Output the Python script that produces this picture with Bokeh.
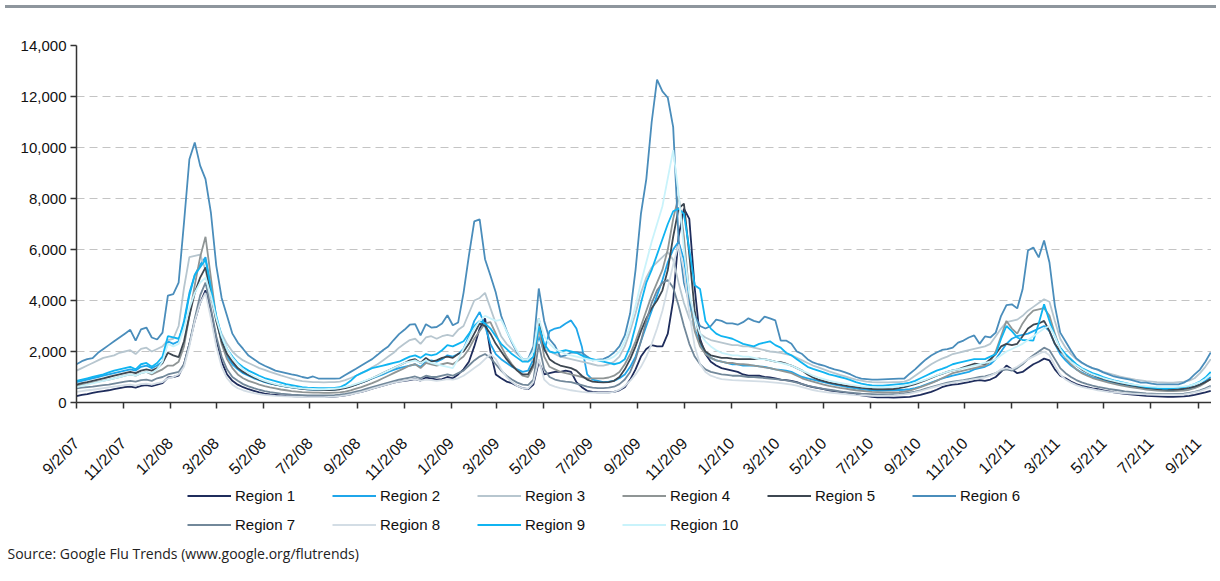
from datetime import date
from bokeh.plotting import figure
from bokeh.models import (Range1d, FixedTicker, Legend, LegendItem, Label, Div,
                          NumeralTickFormatter, ColumnDataSource)
from bokeh.layouts import column
from bokeh.embed import file_html
from bokeh.resources import INLINE

start = date(2007, 9, 2)   # first weekly observation (Sunday)

tick_labels = ["9/2/07", "11/2/07", "1/2/08", "3/2/08", "5/2/08", "7/2/08", "9/2/08",
               "11/2/08", "1/2/09", "3/2/09", "5/2/09", "7/2/09", "9/2/09", "11/2/09",
               "1/2/10", "3/2/10", "5/2/10", "7/2/10", "9/2/10", "11/2/10", "1/2/11",
               "3/2/11", "5/2/11", "7/2/11", "9/2/11"]

region_names = ["Region 1", "Region 2", "Region 3", "Region 4", "Region 5",
                "Region 6", "Region 7", "Region 8", "Region 9", "Region 10"]

region_1 = [250, 300, 330, 380, 420, 450, 480, 520, 560, 600, 620, 580, 650, 680, 640, 700, 760,
            980, 1000, 1050, 1500, 2300, 3200, 3900, 4400, 3600, 2500, 1600, 1100, 850, 700,
            600, 520, 460, 400, 350, 320, 300, 280, 260, 250, 240, 240, 230, 230, 220, 220, 220, 230, 250, 280, 320, 380, 420, 480, 540,
            600, 660, 720, 780, 820, 850, 880, 920, 860, 980, 950, 900, 920, 1000, 950, 1100, 1300,
            1600, 2200, 2900, 3300, 2000, 1100, 950, 820, 760, 650, 560, 520,
            700, 1600, 1100, 1150, 1200, 1200, 1250, 1200, 800, 600, 460, 420, 400, 400, 400, 420,
            480, 600, 900, 1300, 1800, 2100, 2250, 2200, 2200, 2700, 4000, 6500, 7600, 7200, 4500, 2500, 1900, 1600, 1450, 1350,
            1300, 1250, 1200, 1100, 1050, 1050, 1050, 1000, 980, 950, 900, 880, 850, 800, 720, 650, 600, 560, 520, 480, 450, 420, 400, 360, 320, 280, 250, 220, 200, 200, 200, 190, 200, 210, 220,
            260, 300, 360, 420, 500, 600, 660, 700, 720, 760, 800, 850, 880, 850, 900, 1000, 1200, 1450, 1300, 1150, 1200,
            1350, 1500, 1600, 1720, 1650, 1300, 1050, 950, 820, 720, 650, 600, 550, 520,
            480, 440, 400, 370, 340, 320, 300, 280, 260, 250, 240, 230, 220, 220, 230, 240, 260, 300, 350, 400, 460]

region_2 = [800, 850, 900, 950, 1000, 1050, 1100, 1150, 1200, 1250, 1300, 1250, 1400, 1450, 1350, 1450, 1600,
            2400, 2300, 2400, 3200, 4300, 5000, 5400, 5700, 4500, 3300, 2400, 1800, 1500, 1300,
            1150, 1050, 950, 880, 800, 740, 700, 660, 620, 590, 560, 540, 520, 510, 500, 500, 500, 510, 540, 580, 640, 700, 780, 860, 940,
            1020, 1100, 1200, 1280, 1350, 1400, 1450, 1500, 1400, 1600, 1650, 1600, 1700, 1850, 1800, 1900, 2100,
            2600, 3200, 3550, 3000, 2300, 1900, 1700, 1550, 1400, 1300, 1200, 1250,
            1700, 2600, 2000, 2800, 2900, 2950, 3100, 3220, 2900, 2200, 1100, 900, 850, 800, 820, 850,
            950, 1100, 1400, 1800, 2400, 3000, 3600, 4200, 4800, 5500, 6000, 6300, 5600, 4000, 2900, 2300, 1950, 1750, 1650, 1600,
            1550, 1500, 1500, 1450, 1450, 1450, 1420, 1400, 1350, 1300, 1280, 1250, 1200, 1100, 1000, 950, 900, 850, 800, 750, 700, 660, 620, 580, 550, 520, 500, 480, 470, 470, 480, 480, 490, 500, 520,
            560, 620, 700, 780, 860, 940, 1000, 1050, 1100, 1150, 1200, 1300, 1350, 1400, 1500, 1700, 2000, 2300, 2500, 2600, 2650,
            2700, 2800, 2900, 3000, 2800, 2300, 1900, 1650, 1450, 1300, 1180, 1080, 1000, 940,
            880, 820, 770, 720, 680, 640, 600, 570, 540, 520, 500, 490, 480, 480, 490, 500, 540, 600, 700, 850, 1000]

region_3 = [1250, 1350, 1450, 1550, 1650, 1750, 1800, 1850, 1950, 2000, 2050, 1900, 2100, 2150, 2000, 2100, 2200,
            2450, 2500, 3000, 4500, 5700, 5750, 5800, 5200, 4100, 3200, 2700, 2300, 2000, 1800,
            1650, 1550, 1450, 1350, 1280, 1200, 1130, 1060, 1000, 940, 880, 840, 820, 800, 800, 790, 800, 800, 820, 880, 960, 1050, 1150, 1250, 1380,
            1500, 1650, 1800, 1950, 2150, 2300, 2450, 2500, 2300, 2550, 2600, 2500, 2600, 2650, 2600, 2850, 3000,
            3500, 4000, 4100, 4300, 3700, 3100, 2600, 2300, 2100, 1900, 1700, 1600,
            1700, 2800, 2100, 2000, 1900, 1800, 1750, 1700, 1650, 1600, 1550, 1500, 1450, 1450, 1500, 1600,
            1800, 2200, 2800, 3500, 4300, 4900, 5300, 5500, 5700, 5900, 5600, 4700, 3900, 3300, 2900, 2700, 2550, 2450, 2400, 2350,
            2300, 2250, 2250, 2200, 2200, 2150, 2100, 2050, 2000, 1980, 1950, 1900, 1850, 1750, 1650, 1550, 1450, 1380, 1300, 1220, 1150, 1080, 1020, 960, 900, 860, 820, 800, 790, 790, 790, 800, 800, 820, 900,
            1050, 1200, 1350, 1500, 1620, 1720, 1800, 1900, 1950, 2000, 2050, 2100, 2150, 2200, 2300, 2600, 2900, 3150, 3200, 3250, 3400,
            3600, 3750, 3900, 4050, 3950, 3200, 2500, 2150, 1900, 1700, 1550, 1450, 1350, 1280,
            1200, 1140, 1080, 1020, 980, 940, 900, 870, 840, 820, 800, 790, 780, 780, 800, 820, 860, 950, 1150, 1400, 1700]

region_4 = [650, 700, 730, 780, 820, 860, 900, 950, 1000, 1050, 1100, 1050, 1150, 1200, 1100, 1200, 1300,
            1450, 1450, 1600, 2200, 3400, 4600, 5700, 6500, 4900, 3300, 2300, 1700, 1350, 1100,
            950, 850, 780, 700, 640, 590, 550, 510, 480, 450, 430, 410, 400, 390, 390, 380, 380, 390, 400, 430, 480, 540, 600, 680, 760,
            850, 950, 1050, 1150, 1250, 1350, 1450, 1500, 1350, 1550, 1500, 1450, 1500, 1550, 1500, 1650, 1800,
            2100, 2500, 2800, 3100, 3150, 2700, 2200, 1800, 1500, 1250, 1050, 1000,
            1400, 3000, 1800, 1400, 1300, 1200, 1150, 1100, 1050, 1000, 950, 950, 950, 950, 980, 1050,
            1200, 1500, 1900, 2400, 3000, 3600, 4200, 4700, 5200, 6000, 7200, 8100, 6500, 4200, 2800, 2200, 1900, 1750, 1650, 1600,
            1550, 1550, 1500, 1500, 1480, 1450, 1420, 1380, 1350, 1300, 1250, 1200, 1150, 1050, 950, 880, 820, 760, 700, 650, 610, 570, 540, 510, 480, 460, 440, 420, 410, 400, 400, 400, 410, 430, 470,
            530, 600, 680, 760, 850, 950, 1050, 1150, 1200, 1250, 1300, 1350, 1400, 1450, 1600, 2000, 2600, 3200, 2900, 2700, 3100,
            3400, 3600, 3650, 3700, 3400, 2700, 2100, 1750, 1500, 1300, 1150, 1050, 960, 900,
            840, 780, 730, 680, 640, 600, 570, 540, 510, 490, 470, 460, 450, 450, 460, 470, 500, 560, 650, 780, 920]

region_5 = [700, 760, 800, 850, 900, 950, 1000, 1050, 1100, 1150, 1200, 1150, 1250, 1300, 1250, 1350, 1550,
            1950, 1850, 1780, 2400, 3400, 4300, 4900, 5300, 4300, 3200, 2400, 1900, 1600, 1350,
            1200, 1080, 980, 900, 820, 760, 700, 660, 620, 590, 560, 540, 520, 510, 500, 490, 490, 500, 520, 560, 620, 700, 780, 860, 950,
            1050, 1150, 1250, 1350, 1450, 1550, 1650, 1700, 1550, 1750, 1600, 1650, 1750, 1800, 1750, 1900, 2000,
            2300, 2700, 3100, 3000, 2700, 2300, 2000, 1700, 1450, 1250, 1100, 1100,
            1500, 3300, 2100, 1700, 1550, 1450, 1400, 1350, 1250, 1050, 900, 820, 800, 790, 800, 850,
            1000, 1300, 1700, 2200, 2800, 3300, 3700, 4000, 4400, 5200, 6500, 7600, 7800, 5800, 3600, 2400, 2000, 1850, 1800, 1750,
            1750, 1720, 1700, 1700, 1700, 1700, 1720, 1700, 1650, 1600, 1580, 1520, 1450, 1350, 1250, 1100, 980, 900, 840, 780, 740, 700, 660, 630, 600, 570, 550, 530, 520, 520, 520, 530, 560, 600, 660,
            720, 800, 880, 960, 1050, 1120, 1200, 1260, 1300, 1380, 1450, 1520, 1500, 1520, 1700, 1900, 2200, 2300, 2250, 2300, 2600,
            2900, 3050, 3100, 3200, 2800, 2300, 2000, 1850, 1650, 1450, 1300, 1180, 1080, 1000,
            930, 870, 810, 760, 720, 680, 640, 600, 570, 550, 530, 520, 510, 510, 520, 540, 570, 620, 700, 800, 920]

region_6 = [1500, 1620, 1700, 1740, 1950, 2100, 2250, 2400, 2550, 2700, 2850, 2430, 2870, 2940, 2550, 2470, 2740,
            4190, 4250, 4700, 7060, 9540, 10200, 9290, 8760, 7450, 5370, 4100, 3400, 2700, 2350,
            2100, 1840, 1700, 1550, 1440, 1350, 1250, 1200, 1150, 1100, 1060, 1000, 960, 1020, 940, 940, 940, 940, 950, 1080, 1200, 1320, 1450, 1580, 1700,
            1870, 2050, 2200, 2450, 2680, 2850, 3050, 3070, 2630, 3070, 2940, 2960, 3100, 3420, 3030, 3140, 4300,
            5760, 7100, 7180, 5620, 4980, 4310, 3400, 2820, 2350, 1950, 1700, 1700,
            2200, 4470, 3200, 2480, 2230, 1800, 1850, 1960, 1970, 1960, 1800, 1650, 1680, 1700, 1800, 1960,
            2200, 2630, 3500, 5200, 7400, 8760, 11000, 12660, 12200, 11950, 10800, 6400, 4700, 3900, 3400, 3000, 2900, 3000, 3250, 3200,
            3100, 3100, 3050, 3150, 3300, 3200, 3140, 3370, 3300, 3220, 2430, 2430, 2300, 2000, 1900, 1700, 1570, 1500, 1450, 1370, 1300, 1250, 1180, 1100, 1000, 940, 920, 900, 900, 910, 920, 930, 940, 940, 1130,
            1300, 1500, 1690, 1840, 1960, 2060, 2090, 2150, 2350, 2430, 2550, 2630, 2300, 2590, 2550, 2740, 3400, 3820, 3850, 3690, 4440,
            5960, 6080, 5690, 6350, 5490, 3800, 2740, 2390, 2040, 1730, 1570, 1440, 1350, 1290,
            1180, 1100, 1020, 980, 940, 900, 840, 780, 780, 740, 710, 710, 710, 710, 710, 780, 900, 1100, 1290, 1600, 1960]

region_7 = [550, 580, 600, 620, 650, 680, 700, 740, 780, 820, 850, 820, 880, 900, 850, 950, 1000,
            1100, 1150, 1200, 1500, 2300, 3300, 4200, 4700, 3700, 2600, 1800, 1300, 1000, 850,
            720, 630, 560, 500, 450, 410, 380, 350, 330, 310, 300, 290, 280, 280, 280, 280, 280, 290, 310, 340, 380, 430, 480, 540, 600,
            660, 720, 780, 840, 900, 940, 980, 1020, 950, 1050, 1000, 1000, 1050, 1100, 1050, 1150, 1250,
            1450, 1650, 1800, 1900, 1750, 1500, 1250, 1050, 900, 780, 700, 680,
            900, 2300, 1300, 1000, 900, 850, 820, 800, 740, 680, 620, 580, 560, 560, 580, 620,
            720, 900, 1200, 1700, 2400, 3200, 3900, 4400, 4700, 4800, 4500, 3800, 3000, 2300, 1800, 1500, 1300, 1200, 1150, 1100,
            1080, 1050, 1050, 1030, 1000, 1000, 980, 960, 940, 920, 900, 870, 830, 780, 720, 660, 610, 570, 530, 500, 470, 440, 410, 390, 370, 350, 340, 330, 320, 320, 320, 330, 340, 360, 390,
            430, 480, 540, 600, 660, 720, 780, 820, 850, 880, 920, 960, 1000, 1020, 1080, 1150, 1250, 1300, 1250, 1350, 1500,
            1700, 1850, 2000, 2150, 2050, 1700, 1350, 1150, 1000, 880, 790, 720, 660, 610,
            570, 530, 500, 470, 440, 420, 400, 380, 360, 350, 340, 330, 330, 330, 340, 350, 380, 420, 480, 560, 650]

region_8 = [420, 450, 480, 500, 530, 560, 590, 620, 650, 680, 700, 660, 720, 740, 700, 760, 800,
            950, 1000, 1100, 1400, 2200, 3200, 3900, 4300, 3300, 2200, 1400, 950, 700, 560,
            480, 420, 370, 330, 300, 280, 260, 250, 240, 230, 220, 220, 210, 210, 210, 210, 220, 230, 250, 280, 320, 370, 420, 480, 540,
            600, 660, 720, 780, 820, 860, 900, 920, 860, 900, 880, 850, 880, 920, 900, 950, 1050,
            1200, 1350, 1500, 1700, 1900, 1700, 1300, 1000, 800, 650, 560, 540,
            800, 1700, 900, 700, 620, 560, 520, 480, 450, 420, 400, 390, 380, 380, 390, 420,
            500, 650, 850, 1100, 1400, 1800, 2300, 2900, 3600, 4500, 5400, 6200, 5200, 3500, 2200, 1500, 1200, 1050, 980, 920,
            900, 880, 870, 860, 850, 840, 830, 820, 800, 780, 760, 730, 700, 660, 600, 540, 490, 450, 420, 390, 370, 350, 330, 310, 290, 280, 270, 260, 260, 260, 270, 280, 300, 320, 350,
            400, 450, 510, 570, 630, 690, 740, 780, 820, 850, 880, 920, 950, 980, 1050, 1150, 1300, 1350, 1300, 1400, 1550,
            1700, 1800, 1900, 2000, 1850, 1450, 1100, 900, 780, 680, 610, 560, 520, 480,
            450, 420, 400, 380, 360, 350, 340, 330, 320, 310, 310, 300, 300, 300, 310, 320, 350, 400, 450, 520, 600]

region_9 = [850, 900, 950, 1000, 1050, 1100, 1180, 1250, 1300, 1350, 1400, 1300, 1500, 1550, 1400, 1550, 1800,
            2600, 2550, 2500, 3100, 4200, 5000, 5300, 5600, 4500, 3400, 2600, 2100, 1800, 1550,
            1380, 1250, 1150, 1050, 960, 900, 840, 780, 720, 680, 640, 600, 580, 570, 560, 560, 560, 570, 600, 700, 850, 1050, 1150, 1250, 1350,
            1400, 1450, 1500, 1550, 1600, 1700, 1800, 1850, 1750, 1900, 1850, 1900, 2050, 2250, 2200, 2300, 2400,
            2700, 3000, 3200, 3100, 2900, 2600, 2300, 2100, 1900, 1750, 1600, 1600,
            1800, 3000, 2300, 2000, 1950, 2000, 2050, 2000, 1950, 1850, 1750, 1700, 1650, 1600, 1550, 1500,
            1550, 1700, 2200, 3000, 3900, 4700, 5200, 5800, 6400, 7000, 7500, 7600, 7400, 6000, 4600, 4450, 3200, 2900, 2700, 2600,
            2550, 2500, 2400, 2300, 2250, 2200, 2300, 2350, 2400, 2250, 2150, 1950, 1850, 1700, 1550, 1400, 1320, 1250, 1180, 1100, 1050, 1000, 950, 880, 800, 740, 700, 670, 660, 660, 680, 700, 720, 740, 780,
            850, 950, 1050, 1150, 1250, 1320, 1400, 1500, 1550, 1600, 1650, 1700, 1700, 1700, 1800, 1900, 2500, 3000, 2800, 2550, 2450,
            2450, 2430, 3100, 3850, 3200, 2600, 2150, 1900, 1700, 1500, 1350, 1250, 1150, 1080,
            1000, 930, 870, 820, 770, 720, 680, 640, 600, 580, 560, 550, 550, 560, 580, 600, 650, 720, 820, 980, 1200]

region_10 = [600, 650, 700, 750, 800, 850, 900, 950, 1000, 1050, 1100, 1050, 1150, 1200, 1150, 1300, 1600,
             2300, 2200, 2300, 2900, 3700, 4300, 4700, 4900, 4200, 3300, 2600, 2100, 1750, 1500,
             1300, 1150, 1030, 930, 850, 780, 720, 670, 630, 600, 570, 550, 540, 530, 520, 520, 530, 540, 560, 600, 660, 730, 800, 880, 960,
             1050, 1150, 1250, 1350, 1450, 1550, 1600, 1650, 1550, 1650, 1550, 1500, 1450, 1400, 1350, 1700, 2100,
             2500, 2900, 3200, 3400, 3300, 3200, 3250, 2800, 2400, 2000, 1700, 1700,
             2000, 3300, 2600, 2300, 2100, 2000, 1900, 1850, 1800, 1750, 1700, 1650, 1650, 1650, 1700, 1800,
             2000, 2400, 3000, 3800, 4700, 5500, 6300, 7000, 7700, 8800, 9900, 8200, 6000, 4300, 3300, 2700, 2400, 2200, 2050, 1950,
             1900, 1850, 1850, 1800, 1800, 1750, 1700, 1700, 1650, 1600, 1550, 1500, 1450, 1350, 1250, 1150, 1050, 980, 920, 860, 810, 770, 730, 690, 660, 630, 610, 600, 590, 590, 600, 610, 630, 660, 700,
             760, 830, 900, 980, 1060, 1130, 1200, 1260, 1300, 1350, 1400, 1450, 1500, 1550, 1600, 1700, 1850, 2000, 2100, 2200, 2300,
             2450, 2600, 2750, 2900, 3000, 2600, 2100, 1800, 1600, 1450, 1320, 1200, 1100, 1030,
             960, 900, 850, 800, 760, 720, 690, 660, 640, 620, 610, 600, 600, 600, 610, 630, 660, 720, 800, 920, 1100]

region_values = [region_1, region_2, region_3, region_4, region_5,
                 region_6, region_7, region_8, region_9, region_10]

region_colors = ["#1f2d5c", "#1fa6ea", "#b7c6cf", "#8f9595", "#3d4751",
                 "#4a8dbb", "#72889a", "#d3dde5", "#10b4f1", "#c9f3fb"]

source_text = "Source: Google Flu Trends (www.google.org/flutrends)"


def day_offset(label):
    m, d, y = label.split("/")
    return (date(2000 + int(y), int(m), int(d)) - start).days


tick_days = [day_offset(t) for t in tick_labels]

sources = [ColumnDataSource(dict(x=[7 * i for i in range(len(v))], y=v)) for v in region_values]

# ---- main chart ----
p = figure(width=1211, height=478, output_backend="svg", toolbar_location=None,
           x_range=Range1d(0, 1478), y_range=Range1d(0, 14000),
           min_border_left=76, min_border_right=0, min_border_top=31, min_border_bottom=90)
p.outline_line_color = None
p.frame_align = False

for src, col in zip(sources, region_colors):
    p.line("x", "y", source=src, line_color=col, line_width=1.8)

p.xaxis.ticker = FixedTicker(ticks=tick_days)
p.xaxis.major_label_overrides = {d: t for d, t in zip(tick_days, tick_labels)}
p.xaxis.major_label_orientation = 0.785398
p.xaxis.major_label_text_font = "Liberation Sans"
p.xaxis.major_label_text_font_size = "16px"
p.xaxis.major_label_text_color = "#111111"
p.xaxis.major_label_standoff = 32
p.xaxis.major_tick_out = 6
p.xaxis.major_tick_in = 0
p.xaxis.minor_tick_line_color = None
p.xaxis.axis_line_color = "#333333"
p.xaxis.axis_line_width = 1.5
p.xaxis.major_tick_line_color = "#333333"
p.xaxis.major_tick_line_width = 1.5

p.yaxis.ticker = FixedTicker(ticks=[0, 2000, 4000, 6000, 8000, 10000, 12000, 14000])
p.yaxis.formatter = NumeralTickFormatter(format="0,0")
p.yaxis.major_label_text_font = "Liberation Sans"
p.yaxis.major_label_text_font_size = "15px"
p.yaxis.major_label_text_color = "#111111"
p.yaxis.major_tick_out = 6
p.yaxis.major_tick_in = 0
p.yaxis.minor_tick_line_color = None
p.yaxis.axis_line_color = "#333333"
p.yaxis.axis_line_width = 1.5
p.yaxis.major_tick_line_color = "#333333"
p.yaxis.major_tick_line_width = 1.5
p.yaxis.major_label_standoff = 4

p.xgrid.grid_line_color = None
p.ygrid.grid_line_color = "#c4c4c4"
p.ygrid.grid_line_dash = "8 5"
p.ygrid.grid_line_width = 1.2

# ---- legend + source strip (its frame shows no data: y range lies below all values) ----
q = figure(width=1211, height=96, output_backend="svg", toolbar_location=None,
           x_range=Range1d(0, 1478), y_range=Range1d(-20, -10),
           x_axis_location=None, y_axis_location=None,
           min_border_left=0, min_border_right=0, min_border_top=0, min_border_bottom=0)
q.grid.grid_line_color = None
q.outline_line_color = None
q.frame_align = False
q.background_fill_alpha = 0
q.border_fill_alpha = 0
q.styles = {"margin-top": "-17px"}

items = []
for name, src, col in zip(region_names, sources, region_colors):
    r = q.line("x", "y", source=src, line_color=col, line_width=1.8)
    items.append(LegendItem(label=name, renderers=[r]))

legend = Legend(items=items, location=(183, 28), orientation="horizontal", ncols=6,
                glyph_width=44, glyph_height=29, label_height=29, label_width=97,
                spacing=0, padding=4, margin=0, label_standoff=4,
                label_text_font="Liberation Sans", label_text_font_size="15px",
                label_text_color="#111111", border_line_alpha=0, background_fill_alpha=0)
q.add_layout(legend)

q.add_layout(Label(x=7, y=18, x_units="screen", y_units="screen", text=source_text,
                   text_font="Open Sans", text_font_size="14px", text_color="#222222",
                   text_baseline="middle", text_align="left"))

top_rule = Div(text="", width=1211, height=4,
               styles={"border-top": "3px solid #8e969d", "box-sizing": "border-box"})

layout = column(top_rule, p, q, spacing=0)
open("out.html", "w").write(file_html(layout, INLINE))
